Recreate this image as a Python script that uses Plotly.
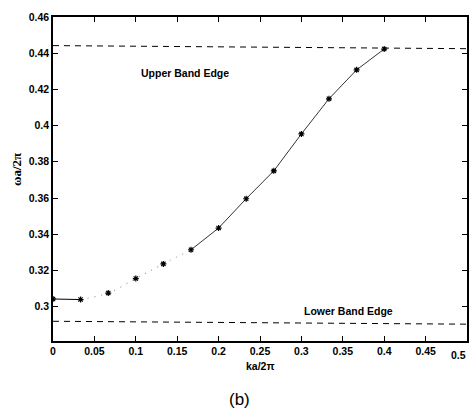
import plotly.graph_objects as go

ka = [0.0, 0.0333, 0.0667, 0.1, 0.1333, 0.1667, 0.2, 0.2333, 0.2667, 0.3, 0.3333, 0.3667, 0.4]
omega = [0.3042, 0.3039, 0.3075, 0.3155, 0.3236, 0.3314, 0.3434, 0.3596, 0.375, 0.3954, 0.4148, 0.4308, 0.4423]
upper_edge_x = [0.0, 0.5]
upper_edge_y = [0.4442, 0.4425]
lower_edge_x = [0.0, 0.5]
lower_edge_y = [0.2919, 0.2903]
xticks = [0, 0.05, 0.1, 0.15, 0.2, 0.25, 0.3, 0.35, 0.4, 0.45, 0.5]
xtick_text = ["0", "0.05", "0.1", "0.15", "0.2", "0.25", "0.3", "0.35", "0.4", "0.45", "0.5"]
yticks = [0.3, 0.32, 0.34, 0.36, 0.38, 0.4, 0.42, 0.44, 0.46]
ytick_text = ["0.3", "0.32", "0.34", "0.36", "0.38", "0.4", "0.42", "0.44", "0.46"]

fig = go.Figure()
fig.add_trace(go.Scatter(x=upper_edge_x, y=upper_edge_y, mode="lines",
                         line=dict(color="black", width=1, dash="6px,5px")))
fig.add_trace(go.Scatter(x=lower_edge_x, y=lower_edge_y, mode="lines",
                         line=dict(color="black", width=1, dash="6px,5px")))
fig.add_trace(go.Scatter(x=ka[0:2], y=omega[0:2], mode="lines",
                         line=dict(color="black", width=1)))
fig.add_trace(go.Scatter(x=ka[1:6], y=omega[1:6], mode="lines",
                         line=dict(color="#777777", width=1, dash="1px,6px", shape="spline")))
fig.add_trace(go.Scatter(x=ka[5:], y=omega[5:], mode="lines",
                         line=dict(color="black", width=0.8)))
fig.add_trace(go.Scatter(x=ka, y=omega, mode="markers",
                         marker=dict(symbol="asterisk-open", size=5, color="black",
                                     line=dict(color="black", width=1.2))))

bold = dict(family="Liberation Sans, Arial", size=10.5, color="black", weight="bold")

fig.update_layout(
    width=471, height=410,
    margin=dict(l=53, r=2, t=17, b=69),
    paper_bgcolor="white", plot_bgcolor="white",
    showlegend=False,
    annotations=[
        dict(x=0.16, y=0.429, xref="x", yref="y", text="Upper Band Edge", showarrow=False,
             xanchor="center", yanchor="middle", font=bold),
        dict(x=0.357, y=0.2978, xref="x", yref="y", text="Lower Band Edge", showarrow=False,
             xanchor="center", yanchor="middle", font=bold),
        dict(x=0.25, y=-0.077, xref="x", yref="paper", text="ka/2π", showarrow=False,
             xanchor="center", yanchor="middle", font=bold),
        dict(x=xticks[-1], y=-0.043, xref="x", yref="paper", text=xtick_text[-1], showarrow=False,
             xanchor="right", yanchor="middle", xshift=1, font=bold),
        dict(x=-0.0865, y=0.528, xref="paper", yref="paper", text="ωa/2π", showarrow=False,
             textangle=-90, xanchor="center", yanchor="middle",
             font=dict(family="Liberation Serif, Times New Roman", size=13, color="black",
                       weight="bold")),
        dict(x=0.225, y=-0.182, xref="x", yref="paper", text="(b)", showarrow=False,
             xanchor="center", yanchor="middle",
             font=dict(family="Liberation Sans, Arial", size=17, color="black")),
    ],
    xaxis=dict(range=[0, 0.5], tickvals=xticks, ticktext=xtick_text, ticks="inside",
               ticklen=5, tickcolor="black", showline=True, linecolor="black", linewidth=1.5,
               mirror="ticks", showgrid=False, zeroline=False, tickfont=bold),
    yaxis=dict(range=[0.281, 0.46], tickvals=yticks, ticktext=ytick_text, ticks="inside",
               ticklen=5, tickcolor="black", showline=True, linecolor="black", linewidth=1.5,
               mirror="ticks", showgrid=False, zeroline=False, tickfont=bold),
)
fig.write_html("out.html", config={"displayModeBar": False},
               post_script="document.body.style.margin='0';document.body.style.overflow='hidden';")
